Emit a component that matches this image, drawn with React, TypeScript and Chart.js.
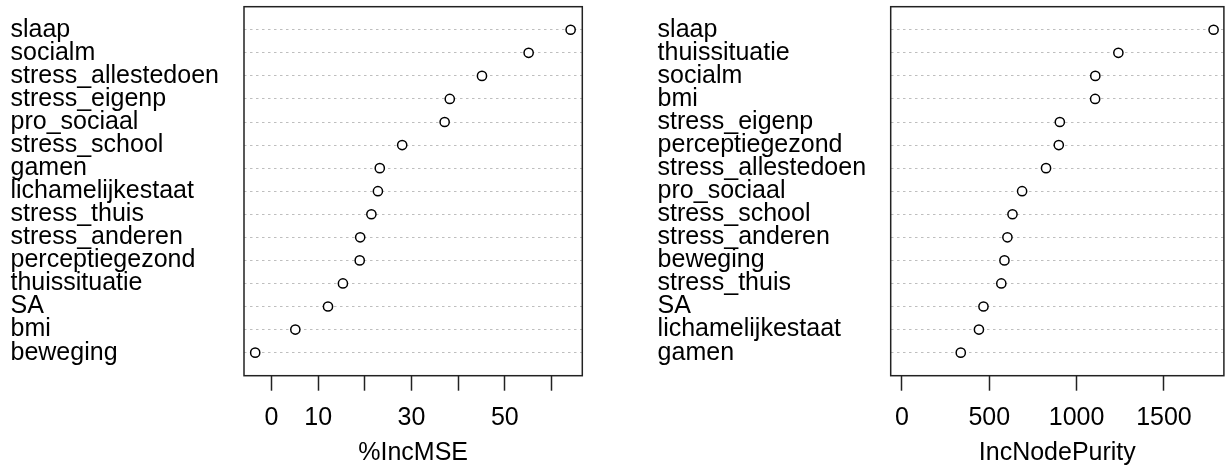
import React, { useEffect, useRef } from 'react';
import { Chart, registerables } from 'chart.js';

Chart.register(...registerables);

// ---- Data: left panel (%IncMSE) ----
const LEFT_CATEGORIES = [
  'slaap', 'socialm', 'stress_allestedoen', 'stress_eigenp', 'pro_sociaal',
  'stress_school', 'gamen', 'lichamelijkestaat', 'stress_thuis', 'stress_anderen',
  'perceptiegezond', 'thuissituatie', 'SA', 'bmi', 'beweging',
];
const LEFT_VALUES = [64.1, 55.1, 45.1, 38.2, 37.1, 28.0, 23.2, 22.8, 21.4, 19.0, 18.9, 15.3, 12.1, 5.1, -3.5];
const LEFT_TICKS = [0, 10, 20, 30, 40, 50, 60];
const LEFT_TICK_LABELS = ['0', '10', '', '30', '', '50', ''];
const LEFT_TITLE = '%IncMSE';

// ---- Data: right panel (IncNodePurity) ----
const RIGHT_CATEGORIES = [
  'slaap', 'thuissituatie', 'socialm', 'bmi', 'stress_eigenp',
  'perceptiegezond', 'stress_allestedoen', 'pro_sociaal', 'stress_school', 'stress_anderen',
  'beweging', 'stress_thuis', 'SA', 'lichamelijkestaat', 'gamen',
];
const RIGHT_VALUES = [1784, 1239, 1107, 1106, 904, 898, 825, 688, 633, 604, 587, 569, 467, 441, 337];
const RIGHT_TICKS = [0, 500, 1000, 1500];
const RIGHT_TICK_LABELS = ['0', '500', '1000', '1500'];
const RIGHT_TITLE = 'IncNodePurity';

const FONT_FAMILY = "'Liberation Sans', Arial, Helvetica, sans-serif";
const FONT_SIZE = 25;

const boxPlugin = {
  id: 'plotBox',
  afterDraw(chart: any) {
    const { ctx, chartArea } = chart;
    const { left, top, right, bottom } = chartArea;
    ctx.save();
    ctx.strokeStyle = '#222';
    ctx.lineWidth = 1.5;
    ctx.strokeRect(left, top, right - left, bottom - top);
    ctx.restore();
  },
};

type PanelProps = {
  categories: string[];
  values: number[];
  ticks: number[];
  tickLabels: string[];
  title: string;
  xMin: number;
  xMax: number;
  padLeft: number;
  padRight: number;
  labelWidth: number;
  left: number;
  width: number;
};

function Panel(props: PanelProps) {
  const ref = useRef<HTMLCanvasElement | null>(null);
  useEffect(() => {
    if (!ref.current) return;
    const { categories, values, ticks, tickLabels, title, xMin, xMax, padLeft, padRight, labelWidth } = props;
    const font = { family: FONT_FAMILY, size: FONT_SIZE };
    const chart = new Chart(ref.current, {
      type: 'scatter',
      data: {
        datasets: [
          {
            data: values.map((v, i) => ({ x: v, y: i + 1 })),
            pointStyle: 'circle',
            pointRadius: 4.6,
            pointBorderWidth: 1.5,
            pointBorderColor: '#000',
            pointBackgroundColor: '#fff',
            pointHoverRadius: 4.6,
            showLine: false,
          },
        ],
      },
      options: {
        animation: false,
        responsive: false,
        maintainAspectRatio: false,
        events: [],
        layout: { padding: { left: padLeft, right: padRight, top: 6.7, bottom: 0 } },
        plugins: { legend: { display: false }, tooltip: { enabled: false } },
        scales: {
          x: {
            type: 'linear',
            position: 'bottom',
            min: xMin,
            max: xMax,
            afterBuildTicks: (ax: any) => {
              ax.ticks = ticks.map((v) => ({ value: v }));
            },
            afterFit: (ax: any) => {
              ax.height = 94.3;
              ax.paddingLeft = 0;
              ax.paddingRight = 0;
            },
            ticks: {
              autoSkip: false,
              maxRotation: 0,
              minRotation: 0,
              padding: 12,
              color: '#000',
              font,
              callback: (v: any) => {
                const idx = ticks.indexOf(Number(v));
                return idx >= 0 ? tickLabels[idx] : '';
              },
            },
            grid: {
              drawOnChartArea: false,
              drawTicks: true,
              tickLength: 15,
              tickWidth: 1.5,
              tickColor: '#222',
            },
            border: { display: false },
            title: {
              display: true,
              text: title,
              color: '#000',
              font,
              padding: { top: 0, bottom: 2 },
            },
          },
          y: {
            type: 'linear',
            reverse: true,
            min: 0,
            max: categories.length + 1,
            afterBuildTicks: (ax: any) => {
              ax.ticks = categories.map((_, i) => ({ value: i + 1 }));
            },
            afterFit: (ax: any) => {
              ax.width = labelWidth;
              ax.paddingTop = 0;
              ax.paddingBottom = 0;
            },
            ticks: {
              autoSkip: false,
              crossAlign: 'far',
              padding: 0,
              color: '#000',
              font,
              callback: (v: any) => categories[Number(v) - 1] ?? '',
            },
            grid: {
              color: '#bebebe',
              lineWidth: 1,
              drawTicks: false,
            },
            border: { display: false, dash: [2.5, 3.5] },
          },
        },
      } as any,
      plugins: [boxPlugin],
    });
    return () => chart.destroy();
  }, []);
  return (
    <canvas
      ref={ref}
      width={props.width}
      height={470}
      style={{ position: 'absolute', left: props.left, top: 0, width: props.width, height: 470 }}
    />
  );
}

export default function App() {
  return (
    <div style={{ position: 'fixed', left: 0, top: 0, width: 1230, height: 470, background: '#fff', overflow: 'hidden' }}>
      <Panel
        categories={LEFT_CATEGORIES}
        values={LEFT_VALUES}
        ticks={LEFT_TICKS}
        tickLabels={LEFT_TICK_LABELS}
        title={LEFT_TITLE}
        xMin={-5.9}
        xMax={66.6}
        padLeft={10.5}
        padRight={32.7}
        labelWidth={233.5}
        left={0}
        width={615}
      />
      <Panel
        categories={RIGHT_CATEGORIES}
        values={RIGHT_VALUES}
        ticks={RIGHT_TICKS}
        tickLabels={RIGHT_TICK_LABELS}
        title={RIGHT_TITLE}
        xMin={-64}
        xMax={1843}
        padLeft={42.6}
        padRight={2.3}
        labelWidth={233.1}
        left={615}
        width={615}
      />
    </div>
  );
}
